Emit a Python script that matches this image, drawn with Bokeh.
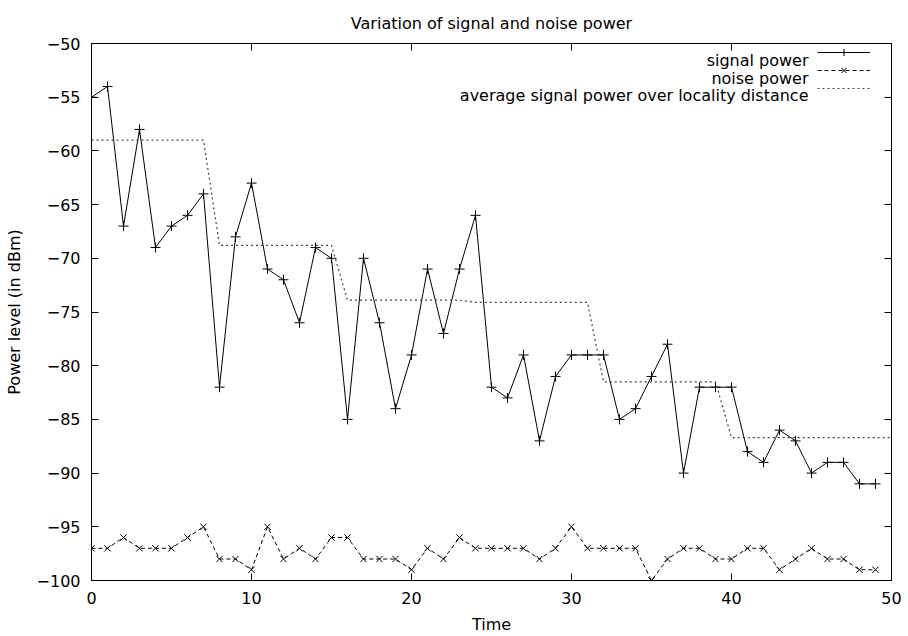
from bokeh.plotting import figure
from bokeh.models import Range1d, LinearAxis, Legend, LegendItem, Label, FixedTicker
from bokeh.embed import file_html
from bokeh.resources import INLINE

# ---- data ----
time = list(range(50))
signal_power = [-55, -54, -67, -58, -69, -67, -66, -64, -82, -68,
                -63, -71, -72, -76, -69, -70, -85, -70, -76, -84,
                -79, -71, -77, -71, -66, -82, -83, -79, -87, -81,
                -79, -79, -79, -85, -84, -81, -78, -90, -82, -82,
                -82, -88, -89, -86, -87, -90, -89, -89, -91, -91]
noise_power = [-97, -97, -96, -97, -97, -97, -96, -95, -98, -98,
               -99, -95, -98, -97, -98, -96, -96, -98, -98, -98,
               -99, -97, -98, -96, -97, -97, -97, -97, -98, -97,
               -95, -97, -97, -97, -97, -100, -98, -97, -97, -98,
               -98, -97, -97, -99, -98, -97, -98, -98, -99, -99]
avg_time = list(range(51))
avg_power = [-59.0] * 8 + [-68.8] * 8 + [-73.9] * 8 + [-74.1] * 8 + [-81.5] * 8 + [-86.7] * 11
x_ticks = [0, 10, 20, 30, 40, 50]
y_ticks = [-100, -95, -90, -85, -80, -75, -70, -65, -60, -55, -50]
legend_labels = ["signal power", "noise power", "average signal power over locality distance"]

FONT = "DejaVu Sans"
FS = "16px"

p = figure(width=908, height=636, output_backend="svg", toolbar_location=None,
           x_range=Range1d(0, 50), y_range=Range1d(-100, -50),
           min_border_left=91, min_border_right=17, min_border_top=42, min_border_bottom=56,
           title="Variation of signal and noise power")
p.title.align = "center"
p.title.text_font = FONT
p.title.text_font_size = FS
p.title.text_font_style = "normal"
p.title.text_color = "black"
p.title.standoff = 22
p.grid.visible = False
p.outline_line_color = "black"
p.outline_line_width = 1
p.background_fill_color = "white"
p.border_fill_color = "white"

for ax in (p.xaxis[0], p.yaxis[0]):
    ax.major_tick_in = 7
    ax.major_tick_out = 0
    ax.minor_tick_line_color = None
    ax.axis_line_color = "black"
    ax.major_label_text_font = FONT
    ax.major_label_text_font_size = FS
    ax.major_label_text_color = "black"
    ax.axis_label_text_font = FONT
    ax.axis_label_text_font_size = FS
    ax.axis_label_text_font_style = "normal"
    ax.axis_label_text_color = "black"

p.xaxis[0].ticker = FixedTicker(ticks=x_ticks)
p.yaxis[0].ticker = FixedTicker(ticks=y_ticks)
p.xaxis[0].axis_label = "Time"
p.yaxis[0].axis_label = "Power level (in dBm)"
p.xaxis[0].major_label_standoff = 11
p.xaxis[0].axis_label_standoff = 8
p.yaxis[0].major_label_standoff = 11
p.yaxis[0].axis_label_standoff = 10

# mirrored ticks (no labels)
for side, tks in (("right", y_ticks), ("above", x_ticks)):
    ax = LinearAxis(ticker=FixedTicker(ticks=tks))
    ax.major_tick_in = 7
    ax.major_tick_out = 0
    ax.minor_tick_line_color = None
    ax.major_label_text_color = None
    ax.major_label_standoff = 0
    ax.axis_line_color = "black"
    p.add_layout(ax, side)

# glyphs
s_line = p.line(time, signal_power, line_color="black", line_width=1)
s_pts = p.scatter(time, signal_power, marker="cross", size=10, line_color="black", line_width=1)
n_line = p.line(time, noise_power, line_color="black", line_width=1, line_dash="4 3")
n_pts = p.scatter(time, noise_power, marker="x", size=9, line_color="black", line_width=1)
a_line = p.line(avg_time, avg_power, line_color="#444444", line_width=1.2, line_dash="2 3")

legend = Legend(items=[LegendItem(label=" ", renderers=[s_line, s_pts]),
                       LegendItem(label=" ", renderers=[n_line, n_pts]),
                       LegendItem(label=" ", renderers=[a_line])],
                location="top_right", margin=0, padding=9, spacing=0,
                glyph_height=18, glyph_width=53, label_height=18, label_width=0,
                label_standoff=21, border_line_color=None, background_fill_alpha=0,
                label_text_color=None)
p.add_layout(legend)

for i, txt in enumerate(legend_labels):
    p.add_layout(Label(x=717, y=520 - 17.5 * i, x_units="screen", y_units="screen",
                       text=txt, text_align="right", text_baseline="middle",
                       text_font=FONT, text_font_size=FS, text_color="black"))

open("out.html", "w").write(file_html(p, INLINE))
